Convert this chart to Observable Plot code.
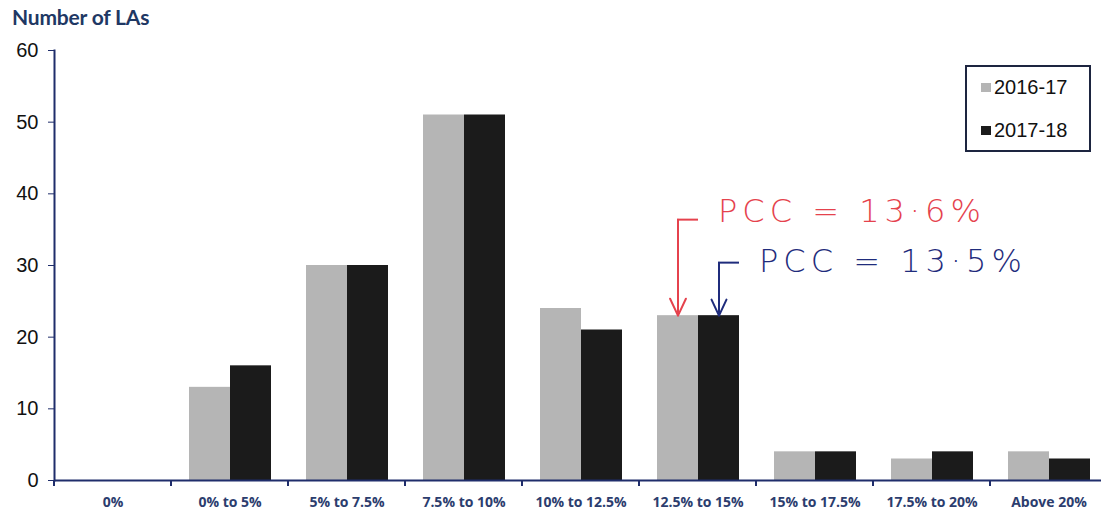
<!DOCTYPE html>
<html>
<head>
<meta charset="utf-8">
<script src="https://cdn.jsdelivr.net/npm/d3@7"></script>
<script src="https://cdn.jsdelivr.net/npm/@observablehq/plot@0.6"></script>
<style>
  html, body { margin: 0; padding: 0; background: #fff; }
  #wrap { position: relative; width: 1101px; height: 512px; overflow: hidden; background: #fff; }
  #title { position: absolute; left: 12px; top: 4px; font: bold 21px Lato, "Open Sans", sans-serif; color: #1f3864; letter-spacing: -0.2px; }
  #chart { position: absolute; left: 0; top: 30px; }
  #legend { position: absolute; left: 965px; top: 65px; width: 126px; height: 87px; box-sizing: border-box;
            border: 2px solid #1d2540; font: 20px "Liberation Sans", Arial, sans-serif; color: #111; }
  .item { position: absolute; left: 14px; display: flex; align-items: center; }
  .sw { width: 10px; height: 9px; margin-right: 3px; }
  g[aria-label="text"] text { letter-spacing: 5px; }
</style>
</head>
<body>
<div id="wrap">
  <div id="title">Number of LAs</div>
  <div id="chart"></div>
  <div id="legend"></div>
</div>
<script>
// ---- data ----
const categories = ["0%", "0% to 5%", "5% to 7.5%", "7.5% to 10%", "10% to 12.5%", "12.5% to 15%", "15% to 17.5%", "17.5% to 20%", "Above 20%"];
const years = ["2016-17", "2017-18"];
const values2016 = [0, 13, 30, 51, 24, 23, 4, 3, 4];
const values2017 = [0, 16, 30, 51, 21, 23, 4, 4, 3];
const yTicks = [0, 10, 20, 30, 40, 50, 60];
const annotCategory = "12.5% to 15%";
const annotLabels = ["PCC = 13·6%", "PCC = 13·5%"];
const annotYears = ["2016-17", "2017-18"];
const annotTextY = [37.5, 30.5];
const annotArrowTop = [36.4, 30.4];
const annotTipY = [23, 23];

// ---- styles ----
const barColors = ["#b5b5b5", "#1b1b1b"];
const annotColors = ["#e5424d", "#1f2c7c"];
const navy = "#1f2d6b";

const rows = categories.flatMap((c, i) => [
  {category: c, year: years[0], value: values2016[i]},
  {category: c, year: years[1], value: values2017[i]}
]);
const annots = annotLabels.map((t, i) => ({
  category: annotCategory, year: annotYears[i], label: t,
  textY: annotTextY[i], top: annotArrowTop[i], tip: annotTipY[i]
}));

function boundaryTicks(index, scales, values, dimensions) {
  const y0 = scales.y(0);
  const g = d3.create("svg:g");
  g.append("line")
    .attr("x1", dimensions.marginLeft).attr("x2", dimensions.marginLeft)
    .attr("y1", y0).attr("y2", y0 + 6)
    .attr("stroke", navy).attr("stroke-width", 2);
  return g.node();
}

const annotMarks = annots.flatMap((a, i) => [
  Plot.tickY([a], {fx: "category", x: "year", y: "top", stroke: annotColors[i], strokeWidth: 2, insetLeft: 20}),
  Plot.arrow([a], {fx: "category", x: "year", y1: "top", y2: "tip", stroke: annotColors[i], strokeWidth: 2, headLength: 14, headAngle: 50}),
  Plot.text([a], {fx: "category", x: "year", y: "textY", text: "label", fill: annotColors[i], fontSize: 32,
                  fontFamily: "DejaVu Sans", fontWeight: 200, textAnchor: "start", dx: 40})
]);

const chart = Plot.plot({
  width: 1101, height: 482,
  marginTop: 20, marginBottom: 32, marginLeft: 52, marginRight: -7,
  style: {background: "transparent", fontFamily: "'Liberation Sans', Arial, sans-serif", overflow: "visible"},
  fx: {domain: categories, padding: 0, label: null},
  x: {domain: years, paddingInner: 0, paddingOuter: 0.413, axis: null},
  y: {domain: [0, 60]},
  color: {domain: years, range: barColors},
  marks: [
    Plot.barY(rows, {fx: "category", x: "year", y: "value", fill: "year"}),
    Plot.ruleY([0], {stroke: navy, strokeWidth: 2}),
    boundaryTicks,
    Plot.frame({anchor: "left", facetAnchor: "left", stroke: navy, strokeWidth: 2}),
    Plot.axisY({ticks: yTicks, tickSize: 6, tickPadding: 10, fontSize: 20, label: null, stroke: navy, fill: "#111"}),
    Plot.axisFx({anchor: "bottom", tickSize: 0, tickPadding: 17, fontSize: 14, fontWeight: "bold", fill: "#2c3d6e", label: null,
                 fontFamily: "'Open Sans', sans-serif"}),
    ...annotMarks
  ]
});
document.getElementById("chart").appendChild(chart);

// legend
const legend = document.getElementById("legend");
years.forEach((y, i) => {
  const item = document.createElement("div");
  item.className = "item";
  item.style.top = (i === 0 ? 9 : 52) + "px";
  const sw = document.createElement("span");
  sw.className = "sw";
  sw.style.background = barColors[i];
  const t = document.createElement("span");
  t.textContent = y;
  item.appendChild(sw); item.appendChild(t);
  legend.appendChild(item);
});
</script>
</body>
</html>
